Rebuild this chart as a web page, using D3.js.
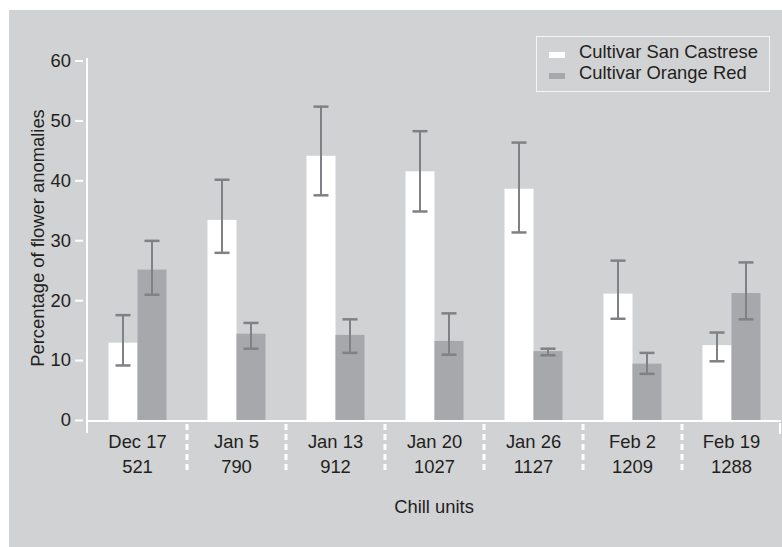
<!DOCTYPE html>
<html>
<head>
<meta charset="utf-8">
<script src="https://cdn.jsdelivr.net/npm/d3@7/dist/d3.min.js"></script>
<style>
  html, body { margin: 0; padding: 0; background: #ffffff; }
  svg { display: block; }
  svg text { font-family: "Liberation Sans", Arial, sans-serif; }
</style>
</head>
<body>
<svg id="chart" width="782" height="547"></svg>
<script>
// Sampling dates and accumulated chill units
const dates = ["Dec 17", "Jan 5", "Jan 13", "Jan 20", "Jan 26", "Feb 2", "Feb 19"];
const chillUnits = ["521", "790", "912", "1027", "1127", "1209", "1288"];

// Percentage of flower anomalies (mean, lower and upper error)
const sanCastrese      = [12.9, 33.4, 44.1, 41.5, 38.6, 21.1, 12.5];
const sanCastreseLow   = [9.1, 27.9, 37.5, 34.8, 31.3, 16.9, 9.8];
const sanCastreseHigh  = [17.5, 40.1, 52.3, 48.2, 46.3, 26.6, 14.6];
const orangeRed        = [25.1, 14.4, 14.2, 13.2, 11.5, 9.4, 21.2];
const orangeRedLow     = [20.9, 11.9, 11.2, 10.9, 10.8, 7.7, 16.8];
const orangeRedHigh    = [29.9, 16.2, 16.8, 17.8, 11.9, 11.2, 26.3];

const seriesNames = ["Cultivar San Castrese", "Cultivar Orange Red"];
const yTicks = [0, 10, 20, 30, 40, 50, 60];

const series = [
  { name: seriesNames[0], values: sanCastrese, low: sanCastreseLow, high: sanCastreseHigh, fill: "#ffffff" },
  { name: seriesNames[1], values: orangeRed, low: orangeRedLow, high: orangeRedHigh, fill: "#a7a8ab" }
];

const svg = d3.select("#chart");
const W = 782, H = 547;
const panelColor = "#d1d2d4";
const textColor = "#231f20";
const errColor = "#808184";
const FONT = "Liberation Sans, Arial, sans-serif";
const FS = 18.4;

// background panel
svg.append("rect").attr("x", 9).attr("y", 10).attr("width", W - 9).attr("height", H - 10).attr("fill", panelColor);

const x = d3.scaleBand().domain(dates).range([88, 781]).paddingInner(0).paddingOuter(0);
const y = d3.scaleLinear().domain([0, 60]).range([420, 60.5]);
const barW = 29;
const xs = d3.scaleBand().domain([0, 1]).range([-barW, barW]);

// bars
series.forEach((s, si) => {
  svg.append("g").selectAll("rect").data(dates).join("rect")
    .attr("x", d => x(d) + x.bandwidth() / 2 + xs(si))
    .attr("width", xs.bandwidth())
    .attr("y", (d, i) => y(s.values[i]))
    .attr("height", (d, i) => y(0) - y(s.values[i]))
    .attr("fill", s.fill);
});

// error bars
series.forEach((s, si) => {
  const g = svg.append("g").attr("stroke", errColor).attr("stroke-width", 2);
  dates.forEach((d, i) => {
    const cx = x(d) + x.bandwidth() / 2 + xs(si) + xs.bandwidth() / 2;
    const y0 = y(s.low[i]), y1 = y(s.high[i]);
    g.append("line").attr("x1", cx).attr("x2", cx).attr("y1", y0).attr("y2", y1);
    g.append("line").attr("x1", cx - 7.5).attr("x2", cx + 7.5).attr("y1", y0).attr("y2", y0).attr("stroke-width", 2.5);
    g.append("line").attr("x1", cx - 7.5).attr("x2", cx + 7.5).attr("y1", y1).attr("y2", y1).attr("stroke-width", 2.5);
  });
});

// y axis
const yAxis = svg.append("g").attr("transform", "translate(87,0)")
  .call(d3.axisLeft(y).tickValues(yTicks).tickSize(10).tickPadding(6));
yAxis.attr("font-family", FONT).attr("font-size", FS);
yAxis.select(".domain").remove();
yAxis.selectAll(".tick line").attr("stroke", "#ffffff").attr("stroke-width", 2).attr("x2", -12).attr("x1", -4);
yAxis.selectAll(".tick text").attr("fill", textColor).attr("x", -16);
svg.append("line").attr("x1", 87).attr("x2", 87).attr("y1", 58).attr("y2", 433)
  .attr("stroke", "#ffffff").attr("stroke-width", 2);

// x axis line
svg.append("line").attr("x1", 86).attr("x2", 781).attr("y1", 421).attr("y2", 421)
  .attr("stroke", "#ffffff").attr("stroke-width", 2);

// category separators
const seps = dates.slice(1);
svg.append("g").selectAll("line").data(seps).join("line")
  .attr("x1", d => x(d)).attr("x2", d => x(d))
  .attr("y1", 424).attr("y2", 473)
  .attr("stroke", "#ffffff").attr("stroke-width", 3)
  .attr("stroke-dasharray", "6,4");
svg.append("line").attr("x1", 780).attr("x2", 780).attr("y1", 423).attr("y2", 434)
  .attr("stroke", "#ffffff").attr("stroke-width", 2);

// category labels
const xl = svg.append("g").attr("fill", textColor).attr("font-size", FS).attr("font-family", FONT).attr("text-anchor", "middle");
xl.selectAll("text.date").data(dates).join("text").attr("class", "date")
  .attr("x", d => x(d) + x.bandwidth() / 2).attr("y", 448).text(d => d);
xl.selectAll("text.cu").data(chillUnits).join("text").attr("class", "cu")
  .attr("x", (d, i) => x(dates[i]) + x.bandwidth() / 2).attr("y", 473).text(d => d);

// axis titles
svg.append("text").attr("x", 434).attr("y", 513).attr("text-anchor", "middle")
  .attr("fill", textColor).attr("font-size", FS).attr("font-family", FONT).text("Chill units");
svg.append("text").attr("transform", "translate(44,238) rotate(-90)").attr("text-anchor", "middle")
  .attr("fill", textColor).attr("font-size", FS).attr("font-family", FONT).text("Percentage of flower anomalies");

// legend
const lg = svg.append("g");
lg.append("rect").attr("x", 536.5).attr("y", 36.5).attr("width", 233).attr("height", 55)
  .attr("fill", "none").attr("stroke", "#f4f4f5").attr("stroke-width", 1);
series.forEach((s, i) => {
  lg.append("rect").attr("x", 549).attr("y", 52 + i * 21).attr("width", 16).attr("height", 6).attr("fill", s.fill);
  lg.append("text").attr("x", 579).attr("y", 58 + i * 21).attr("fill", textColor)
    .attr("font-size", FS).attr("font-family", FONT).text(s.name);
});
</script>
</body>
</html>
